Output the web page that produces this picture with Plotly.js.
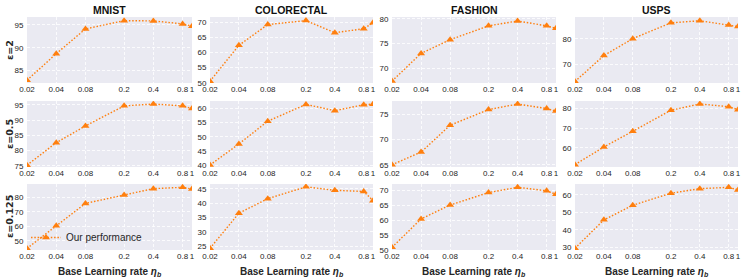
<!DOCTYPE html>
<html>
<head>
<meta charset="utf-8">
<script src="https://cdn.plot.ly/plotly-3.0.1.min.js"></script>
<style>html,body{margin:0;padding:0;background:#fff;}#chart{width:747px;height:280px;}</style>
</head>
<body>
<div id="chart"></div>
<script>
const learningRates = [0.02, 0.04, 0.08, 0.2, 0.4, 0.8, 1];
const xTickText = ['0.02', '0.04', '0.08', '0.2', '0.4', '0.8', '1'];
const datasets = ['MNIST', 'COLORECTAL', 'FASHION', 'USPS'];
const epsilonLabels = ['ε=2', 'ε=0.5', 'ε=0.125'];

const mnist_eps2 = [82.9, 88.7, 94.1, 95.9, 95.85, 95.2, 94.7];
const colorectal_eps2 = [50.5, 62.4, 69.3, 70.6, 66.6, 67.9, 69.9];
const fashion_eps2 = [67.4, 73.0, 75.8, 78.6, 79.6, 78.6, 78.1];
const usps_eps2 = [63.1, 73.4, 80.1, 86.4, 87.2, 85.5, 84.9];

const mnist_eps05 = [75.2, 82.6, 88.1, 94.7, 95.3, 94.7, 93.8];
const colorectal_eps05 = [40.1, 47.5, 55.5, 61.4, 59.2, 61.3, 61.5];
const fashion_eps05 = [65.0, 67.5, 72.8, 75.9, 77.0, 76.1, 75.6];
const usps_eps05 = [51.5, 60.5, 68.5, 79.2, 82.4, 81.0, 79.5];

const mnist_eps0125 = [44.7, 60.4, 75.8, 81.6, 86.0, 86.9, 85.7];
const colorectal_eps0125 = [24.3, 36.5, 41.6, 45.7, 44.5, 44.1, 40.9];
const fashion_eps0125 = [50.8, 60.4, 65.1, 69.3, 71.1, 69.9, 68.7];
const usps_eps0125 = [29.4, 45.7, 54.1, 61.0, 63.6, 64.4, 62.9];

const seriesGrid = [
  [mnist_eps2, colorectal_eps2, fashion_eps2, usps_eps2],
  [mnist_eps05, colorectal_eps05, fashion_eps05, usps_eps05],
  [mnist_eps0125, colorectal_eps0125, fashion_eps0125, usps_eps0125]
];

// layout config (pixels / axis settings)
const W = 747, H = 280;
const colPx = [[27, 192], [210, 373], [392, 556], [575, 738]];
const rowPx = [[17, 83], [101, 167], [184, 250]];
const yRanges = [
  [[82.3, 96.7], [49.9, 71.8], [67.0, 80.4], [62.5, 88.7]],
  [[74.6, 96.3], [39.4, 62.6], [64.55, 77.6], [50.3, 83.9]],
  [[43.6, 89.2], [23.7, 46.7], [49.9, 72.2], [28.4, 66.3]]
];
const yDticks = [
  [5, 5, 5, 10],
  [5, 5, 5, 10],
  [10, 5, 5, 10]
];

const color = '#ff7f0e';
const tickFont = {family: 'Liberation Sans, Arial, sans-serif', size: 8, color: '#262626'};
const traces = [];
const layout = {
  width: W, height: H,
  margin: {l: 0, r: 0, t: 0, b: 0},
  paper_bgcolor: '#ffffff',
  plot_bgcolor: '#EAEAF2',
  showlegend: true,
  legend: {
    x: 26 / W, y: 1 - 237.5 / H, xanchor: 'left', yanchor: 'middle',
    bgcolor: 'rgba(0,0,0,0)', borderwidth: 0,
    font: {family: 'Liberation Sans, Arial, sans-serif', size: 10, color: '#262626'}
  },
  annotations: []
};

let k = 0;
for (let r = 0; r < 3; r++) {
  for (let c = 0; c < 4; c++) {
    k++;
    const xa = 'xaxis' + (k === 1 ? '' : k);
    const ya = 'yaxis' + (k === 1 ? '' : k);
    const xr = 'x' + (k === 1 ? '' : k);
    const yr = 'y' + (k === 1 ? '' : k);
    const isLegend = (r === 2 && c === 0);
    traces.push({
      x: learningRates, y: seriesGrid[r][c],
      xaxis: xr, yaxis: yr,
      type: 'scatter', mode: 'lines+markers',
      name: 'Our performance',
      showlegend: isLegend,
      line: {color: color, width: 1.4, dash: '1.5px,1.8px'},
      marker: {color: color, symbol: 'triangle-up', size: 7}
    });
    layout[xa] = {
      domain: [colPx[c][0] / W, colPx[c][1] / W],
      anchor: yr,
      type: 'log',
      range: [Math.log10(0.02), 0],
      tickvals: learningRates, ticktext: xTickText,
      tickangle: 0,
      showgrid: true, gridcolor: '#ffffff', gridwidth: 0.8, griddash: '3px,2px',
      zeroline: false, showline: false,
      ticks: '',
      tickfont: tickFont
    };
    layout[ya] = {
      domain: [1 - rowPx[r][1] / H, 1 - rowPx[r][0] / H],
      anchor: xr,
      range: yRanges[r][c],
      tick0: 0, dtick: yDticks[r][c],
      tickangle: 0,
      showgrid: true, gridcolor: '#ffffff', gridwidth: 0.8, griddash: '3px,2px',
      zeroline: false, showline: false,
      ticks: 'outside', ticklen: 1, tickcolor: 'rgba(0,0,0,0)',
      tickfont: tickFont
    };
  }
}

// column titles
for (let c = 0; c < 4; c++) {
  layout.annotations.push({
    text: '<b>' + datasets[c] + '</b>',
    xref: 'paper', yref: 'paper',
    x: (colPx[c][0] + colPx[c][1]) / 2 / W, y: 1 - 10 / H,
    xanchor: 'center', yanchor: 'middle', showarrow: false,
    font: {family: 'Liberation Sans, Arial, sans-serif', size: 10.5, color: '#111'}
  });
  layout.annotations.push({
    text: '<b>Base Learning rate <i>η</i><sub><i>b</i></sub></b>',
    xref: 'paper', yref: 'paper',
    x: (colPx[c][0] + colPx[c][1]) / 2 / W, y: 1 - 264 / H,
    xanchor: 'center', yanchor: 'top', showarrow: false,
    font: {family: 'Liberation Sans, Arial, sans-serif', size: 10, color: '#262626'}
  });
}
// row labels
for (let r = 0; r < 3; r++) {
  layout.annotations.push({
    text: '<b>' + epsilonLabels[r] + '</b>',
    xref: 'paper', yref: 'paper',
    x: 9 / W, y: 1 - (rowPx[r][0] + rowPx[r][1]) / 2 / H,
    xanchor: 'center', yanchor: 'middle', showarrow: false, textangle: -90,
    font: {family: 'DejaVu Sans, sans-serif', size: 9.5, color: '#262626'}
  });
}

Plotly.newPlot('chart', traces, layout, {displayModeBar: false, staticPlot: true});
</script>
</body>
</html>
